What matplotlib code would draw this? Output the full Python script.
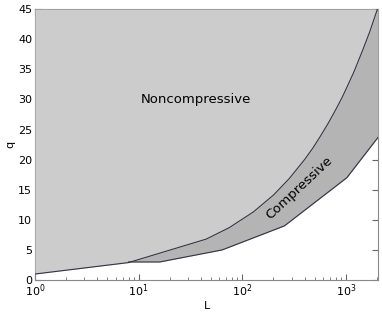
import matplotlib
matplotlib.use("Agg")
import matplotlib.pyplot as plt
import numpy as np

# boundary between compressive and noncompressive
L_upper = [1, 8, 45, 75, 128, 200, 283, 400, 480, 560, 680, 800, 920,
           1024, 1200, 1450, 1700, 2048]
q_upper = [1.0, 2.9, 6.8, 8.7, 11.3, 14.1, 16.8, 20.0, 21.9, 23.7, 26.1,
           28.3, 30.3, 32.0, 34.6, 38.1, 41.2, 45.3]

# lower edge of the compressive region
L_lower = [8, 16, 64, 256, 1024, 2048]
q_lower = [3.0, 3.0, 5.0, 9.0, 17.0, 23.7]

q_top = 45
light = "#cccccc"
dark = "#b4b4b4"
line_col = "#333344"

fig = plt.figure(figsize=(3.82, 3.15), dpi=100)
ax = fig.add_axes([0.0916, 0.111, 0.898, 0.860])

Lu = np.array(L_upper, dtype=float)
qu = np.array(q_upper)
Ll = np.array(L_lower, dtype=float)
ql = np.array(q_lower)

# noncompressive: above the boundary
ax.fill_between(Lu, qu, q_top, color=light, lw=0, zorder=3)

# compressive: between boundary (from L=8) and lower edge
Lc = np.unique(np.concatenate([Lu[Lu >= 8], Ll]))
ax.fill_between(Lc, np.interp(np.log(Lc), np.log(Ll), ql),
                np.interp(np.log(Lc), np.log(Lu), qu),
                color=dark, lw=0, zorder=3)

ax.plot(Lu, qu, color=line_col, lw=0.8, zorder=4)
ax.plot(Ll, ql, color=line_col, lw=0.8, zorder=4)

ax.set_xscale("log")
ax.set_xlim(1, 2048)
ax.set_ylim(0, 45)
ax.set_yticks(range(0, 46, 5))

ax.text(36, 30, "Noncompressive", fontsize=9.5, ha="center", va="center", zorder=5)
ax.text(355, 15.3, "Compressive", fontsize=9.5, ha="center", va="center",
        rotation=43, zorder=5)

ax.set_xlabel("L", fontsize=8, labelpad=1)
ax.set_ylabel("q", fontsize=8, labelpad=2)
ax.tick_params(which="both", direction="in", top=True, right=True,
               labelsize=8, color="#666666", pad=2)
ax.tick_params(which="major", length=4)
ax.tick_params(which="minor", length=2)
for s in ax.spines.values():
    s.set_color("#888888")

fig.savefig("out.png", dpi=100)
